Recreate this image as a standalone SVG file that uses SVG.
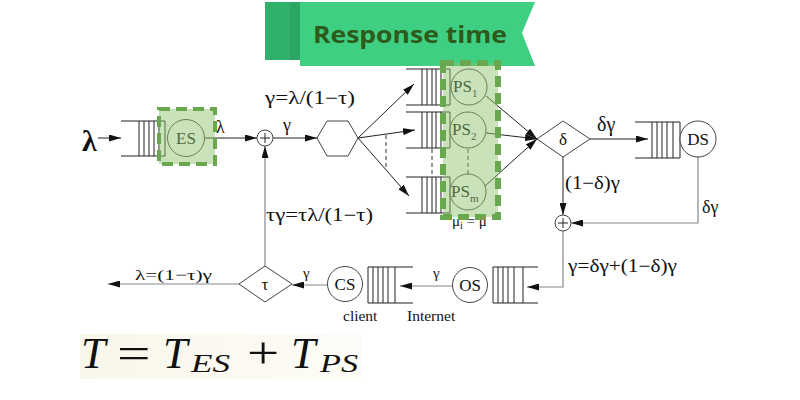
<svg xmlns="http://www.w3.org/2000/svg" width="800" height="400" viewBox="0 0 800 400">
<defs>
<marker id="ah" markerWidth="12" markerHeight="7" refX="12" refY="3.5" orient="auto" markerUnits="userSpaceOnUse"><path d="M0,0 L12,3.5 L0,7 z" fill="#111"/></marker>
<linearGradient id="fbg" x1="0" y1="0" x2="1" y2="0"><stop offset="0" stop-color="#f9f7ea"/><stop offset="1" stop-color="#fdfcf7"/></linearGradient>
<style>
.ln{stroke:#222;stroke-width:1;fill:none}
.gl{stroke:#888;stroke-width:1.2;fill:none}
.q{stroke:#222;stroke-width:1;fill:none}
.nd{stroke:#444;stroke-width:1;fill:#fff}
.t{font-family:"Liberation Serif","DejaVu Serif","Times New Roman",serif;fill:#111}
.lb{font-family:"Liberation Serif","DejaVu Serif","Times New Roman",serif;fill:#111;font-size:18px}
.nt{font-family:"Liberation Serif","DejaVu Serif","Times New Roman",serif;fill:#111;font-size:17px;text-anchor:middle}
.gbox{fill:#8fc26f;fill-opacity:0.48;stroke:#6aa84f;stroke-dasharray:11 6}
.dsh{stroke:#333;stroke-width:1;stroke-dasharray:4 3;fill:none}
</style>
</defs>
<rect width="800" height="400" fill="#fff"/>

<g id="banner">
<rect x="265" y="2" width="35" height="58" fill="#2fb06b"/>
<rect x="290" y="2" width="10" height="58" fill="#2aa563"/>
<polygon points="300,2 535,2 522,33 535,66 300,66" fill="#3ecf82"/>
<text x="313" y="43" font-family="'Open Sans','Lato',sans-serif" font-weight="700" font-size="24" fill="#2e5a1c" textLength="194" lengthAdjust="spacingAndGlyphs">Response time</text>
</g>

<g id="connectors">
<line class="ln" x1="98" y1="138" x2="121" y2="138" marker-end="url(#ah)"/>
<line class="ln" x1="205" y1="138" x2="257" y2="138" marker-end="url(#ah)"/>
<line class="ln" x1="273" y1="138" x2="317" y2="138" marker-end="url(#ah)"/>
<line class="ln" x1="358" y1="138" x2="414" y2="84" marker-end="url(#ah)"/>
<line class="ln" x1="358" y1="138" x2="415" y2="130" marker-end="url(#ah)"/>
<line class="ln" x1="358" y1="138" x2="409" y2="196" marker-end="url(#ah)"/>
<line class="dsh" x1="386" y1="135" x2="386" y2="167"/>
<line class="ln" x1="486" y1="96" x2="537" y2="139" marker-end="url(#ah)"/>
<line class="ln" x1="486" y1="133" x2="537" y2="139" marker-end="url(#ah)"/>
<line class="ln" x1="485" y1="186" x2="537" y2="139" marker-end="url(#ah)"/>
<line class="ln" x1="590" y1="139" x2="648" y2="139" marker-end="url(#ah)"/>
<line class="ln" x1="563" y1="157" x2="563" y2="215" marker-end="url(#ah)"/>
<polyline class="gl" points="698,157 698,223 571,223" marker-end="url(#ah)"/>
<polyline class="gl" points="563,231 563,287 527,287" marker-end="url(#ah)"/>
<line class="gl" x1="452" y1="286" x2="400" y2="286" marker-end="url(#ah)"/>
<line class="gl" x1="327" y1="285" x2="292" y2="285" marker-end="url(#ah)"/>
<line class="gl" x1="239" y1="284" x2="108" y2="284" marker-end="url(#ah)"/>
<line class="gl" x1="265" y1="267" x2="265" y2="146" marker-end="url(#ah)"/>

<text class="t" x="82" y="151" font-size="30" font-weight="bold">λ</text>
<text class="lb" x="216" y="133">λ</text>
<text class="lb" x="283" y="131">γ</text>
<text class="lb" x="265" y="104" textLength="90" lengthAdjust="spacingAndGlyphs">γ=λ/(1−τ)</text>
<text class="lb" x="266" y="221" textLength="107" lengthAdjust="spacingAndGlyphs">τγ=τλ/(1−τ)</text>
<text class="t" x="597" y="131" font-size="20">δγ</text>
<text class="lb" x="565" y="189" textLength="55" lengthAdjust="spacingAndGlyphs">(1−δ)γ</text>
<text class="lb" x="702" y="213">δγ</text>
<text class="lb" x="568" y="272" textLength="109" lengthAdjust="spacingAndGlyphs">γ=δγ+(1−δ)γ</text>
<text class="t" x="433" y="278" font-size="15">γ</text>
<text class="t" x="303" y="278" font-size="15">γ</text>
<text class="t" x="135" y="280" font-size="15" textLength="77" lengthAdjust="spacingAndGlyphs">λ=(1−τ)γ</text>
</g>

<g id="plus1">
<circle class="nd" cx="265" cy="138" r="8"/>
<path class="ln" d="M260,138 H270 M265,133 V143"/>
</g>
<g id="plus2">
<circle class="nd" cx="563" cy="223" r="8"/>
<path class="ln" d="M558,223 H568 M563,218 V228"/>
</g>

<g id="splitter">
<polygon class="nd" points="317,138 327,121 348,121 358,138 348,156 327,156"/>
</g>

<g id="ES">
<path class="q" d="M121,121 H165 V156 H121 M139,121 V156 M144,121 V156 M149,121 V156 M154,121 V156 M159,121 V156"/>
<circle class="nd" cx="186" cy="138" r="18.5"/>
<text class="nt" x="186" y="144" font-size="18">ES</text>
<rect class="gbox" x="159" y="109" width="56" height="55" stroke-width="4"/>
</g>

<g id="PS">
<path class="q" d="M406,69 H450 V105 H406 M422,69 V105 M427,69 V105 M432,69 V105 M436,69 V105 M441,69 V105"/>
<path class="q" d="M406,112 H450 V148 H406 M422,112 V148 M427,112 V148 M432,112 V148 M436,112 V148 M441,112 V148"/>
<path class="q" d="M406,177 H450 V213 H406 M422,177 V213 M427,177 V213 M432,177 V213 M436,177 V213 M441,177 V213"/>
<line class="dsh" x1="432" y1="149" x2="432" y2="176"/>
<line class="dsh" x1="468" y1="149" x2="468" y2="174"/>
<circle class="nd" cx="469" cy="87" r="18"/>
<circle class="nd" cx="468" cy="130" r="18"/>
<circle class="nd" cx="468" cy="192" r="18"/>
<text class="t" x="453" y="92" font-size="17">PS<tspan font-size="11" dy="5">1</tspan></text>
<text class="t" x="452" y="135" font-size="17">PS<tspan font-size="11" dy="5">2</tspan></text>
<text class="t" x="451" y="197" font-size="17">PS<tspan font-size="11" dy="5">m</tspan></text>
<text class="t" x="452" y="226" font-size="15">μ<tspan font-size="10" dy="3">i</tspan><tspan dy="-3"> = μ</tspan></text>
<rect class="gbox" x="443" y="63" width="55" height="154" stroke-width="6"/>
</g>

<g id="delta">
<polygon class="nd" points="537,139 563,121 590,139 563,157"/>
<text class="nt" x="563" y="145">δ</text>
</g>

<g id="DS">
<path class="q" d="M635,122 H680 V158 H635 M652,122 V158 M657,122 V158 M662,122 V158 M667,122 V158 M673,122 V158"/>
<circle class="nd" cx="698" cy="139" r="18"/>
<text class="nt" x="698" y="145">DS</text>
</g>

<g id="OS">
<path class="q" d="M538,267 H493 V303 H538 M498,267 V303 M503,267 V303 M508,267 V303 M514,267 V303 M523,267 V303"/>
<circle class="nd" cx="470" cy="285" r="17.5"/>
<text class="nt" x="470" y="291">OS</text>
<text class="t" x="407" y="321" font-size="15.5">Internet</text>
</g>

<g id="CS">
<path class="q" d="M413,267 H368 V303 H413 M373,267 V303 M378,267 V303 M383,267 V303 M388,267 V303 M395,267 V303"/>
<circle class="nd" cx="345" cy="284" r="17.5"/>
<text class="nt" x="345" y="290">CS</text>
<text class="t" x="343" y="321" font-size="15.5">client</text>
</g>

<g id="tau">
<polygon class="nd" points="239,284 265,266 292,284 265,302"/>
<text class="nt" x="265" y="290">τ</text>
</g>

<g id="formula">
<rect x="80" y="334" width="282" height="45" fill="url(#fbg)"/>
<text class="t" x="81" y="368" font-size="44" font-style="italic">T</text>
<text class="t" x="0" y="0" font-size="44" transform="translate(117,368) scale(1.35,1)">=</text>
<text class="t" x="163" y="368" font-size="44" font-style="italic">T</text>
<text class="t" x="191" y="372" font-size="26" font-style="italic" textLength="39" lengthAdjust="spacingAndGlyphs">ES</text>
<text class="t" x="0" y="0" font-size="44" transform="translate(247,368) scale(1.3,1)">+</text>
<text class="t" x="291" y="368" font-size="44" font-style="italic">T</text>
<text class="t" x="320" y="372" font-size="26" font-style="italic" textLength="38" lengthAdjust="spacingAndGlyphs">PS</text>
</g>
</svg>
